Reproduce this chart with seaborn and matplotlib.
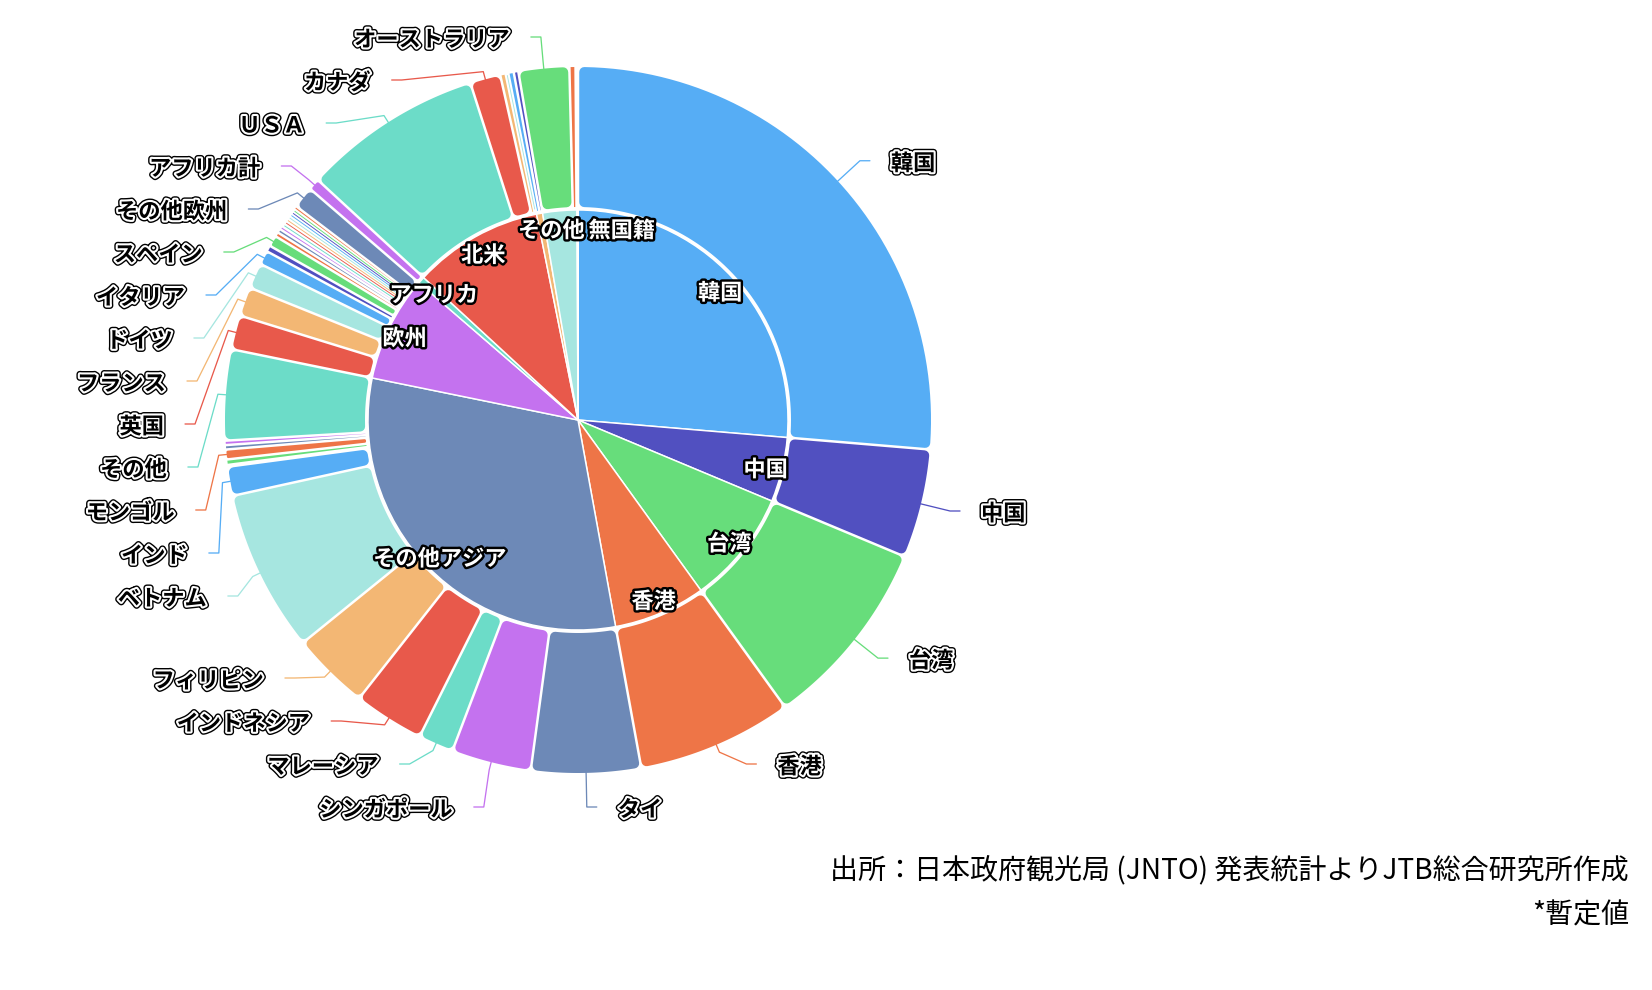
import numpy as np
import pandas as pd
import matplotlib
matplotlib.use("Agg")
import matplotlib.pyplot as plt
import matplotlib.patheffects as pe
from matplotlib.patches import Polygon
import seaborn as sns

# 国・地域別 訪日外客数の構成比（%）
countries = ["韓国", "中国", "台湾", "香港", "タイ", "シンガポール", "マレーシア", "インドネシア",
             "フィリピン", "ベトナム", "インド", "イスラエル", "トルコ", "モンゴル", "GCC6か国", "中東地域",
             "その他", "英国", "フランス", "ドイツ", "イタリア", "ロシア", "スペイン",
             "スウェーデン", "オランダ", "スイス", "ベルギー", "フィンランド", "ポーランド",
             "デンマーク", "ノルウェー", "オーストリア", "ポルトガル", "アイルランド", "その他欧州",
             "アフリカ計", "ＵＳＡ", "カナダ", "メキシコ", "その他北米", "ブラジル", "その他南米",
             "オーストラリア", "ニュージーランド", "その他オセアニア", "その他地域", "無国籍"]
share = [26.33, 4.97, 8.75, 7.08, 5.00, 3.64, 1.61, 3.22, 3.56, 7.39, 1.33, 0.08, 0.25, 0.45, 0.20, 0.20,
         4.14, 1.56, 1.33, 1.17, 0.64, 0.28, 0.50,
         0.20, 0.18, 0.16, 0.15, 0.14, 0.14, 0.14, 0.13, 0.12, 0.12, 0.16, 1.00,
         0.53, 8.22, 1.39, 0.25, 0.12, 0.25, 0.21, 2.31, 0.28, 0.04, 0.04, 0.03]
region = (["韓国", "中国", "台湾", "香港"] + ["その他アジア"] * 13 + ["欧州"] * 18 + ["アフリカ"]
          + ["北米"] * 4 + ["南米"] * 2 + ["オセアニア"] * 3 + ["その他", "無国籍"])

# ラベルを出す国
outer_labels = ["韓国", "中国", "台湾", "香港", "タイ", "シンガポール", "マレーシア", "インドネシア",
                "フィリピン", "ベトナム", "インド", "モンゴル", "その他", "英国", "フランス", "ドイツ",
                "イタリア", "スペイン", "その他欧州", "アフリカ計", "ＵＳＡ", "カナダ", "オーストラリア"]
hidden_inner = ["南米", "オセアニア"]
inner_nudge = {"その他": -26, "無国籍": 44}

note1 = "出所：日本政府観光局 (JNTO) 発表統計よりJTB総合研究所作成"
note2 = "*暫定値"

colors = ["#56adf5", "#5150c0", "#67dd7b", "#ee7547", "#6d89b7",
          "#c472ef", "#6cdcc8", "#e8594b", "#f3b774", "#a6e6e0"]

df = pd.DataFrame({"country": countries, "share": share, "region": region})
inner = df.groupby("region", sort=False)["share"].sum().reset_index()

sns.set_theme(style="white")
plt.rcParams["font.family"] = ["Noto Sans CJK JP", "DejaVu Sans"]
pal = sns.color_palette(colors)

W, H = 1652, 990
CX, CY = 578, H - 420
R_IN = 210
R_RING_IN, R_RING_OUT = 213, 353
GAP = 2.5
CORNER = 5.0
PX = 72 / 100  # 1px in points

fig = plt.figure(figsize=(W / 100, H / 100), dpi=100)
ax = fig.add_axes([0, 0, 1, 1])

in_wedges, _ = ax.pie(inner["share"], radius=R_IN, center=(CX, CY), startangle=90, counterclock=False,
                      colors=[pal[i % 10] for i in range(len(inner))],
                      wedgeprops=dict(edgecolor="white", linewidth=1.5 * PX))
out_wedges, _ = ax.pie(df["share"], radius=R_RING_OUT, center=(CX, CY), startangle=90, counterclock=False,
                       colors=[pal[i % 10] for i in range(len(df))],
                       wedgeprops=dict(width=R_RING_OUT - R_RING_IN, linewidth=0))


def rounded_slice(t1, t2, color):
    span = np.radians(t2 - t1)
    hw_in = span / 2 * R_RING_IN - GAP / 2
    if hw_in >= CORNER + 0.5:
        rc = CORNER
    elif hw_in > 1.5:
        rc = hw_in - 0.5
    else:
        rc = 0.0
    ri, ro = R_RING_IN + rc, R_RING_OUT - rc
    dai = np.degrees((rc + GAP / 2) / ri)
    dao = np.degrees((rc + GAP / 2) / ro)
    half = (t2 - t1) / 2
    if rc == 0 and half - dao <= 0.08:
        # 細すぎる扇形は線で描く
        if (t2 - t1) < 0.35:
            return
        m = np.radians((t1 + t2) / 2)
        ax.plot([CX + (R_RING_IN + 2) * np.cos(m), CX + (R_RING_OUT - 1) * np.cos(m)],
                [CY + (R_RING_IN + 2) * np.sin(m), CY + (R_RING_OUT - 1) * np.sin(m)],
                color=color, lw=0.9 * PX, solid_capstyle="butt")
        return
    dai = min(dai, half - 0.01)
    dao = min(dao, half - 0.01)
    to = np.radians(np.linspace(t1 + dao, t2 - dao, 60))
    ti = np.radians(np.linspace(t2 - dai, t1 + dai, 60))
    xy = np.concatenate([np.c_[CX + ro * np.cos(to), CY + ro * np.sin(to)],
                         np.c_[CX + ri * np.cos(ti), CY + ri * np.sin(ti)]])
    ax.add_patch(Polygon(xy, closed=True, facecolor=color, edgecolor=color,
                         linewidth=2 * rc * PX, joinstyle="round"))


for w in out_wedges:
    w.set_visible(False)
    rounded_slice(w.theta1, w.theta2, w.get_facecolor())

outer_fx = [pe.Stroke(linewidth=5, foreground="black"), pe.Stroke(linewidth=3, foreground="white"), pe.Normal()]
inner_fx = [pe.Stroke(linewidth=3.5, foreground="black"), pe.Normal()]


def block_start(ys, b, gap, lo, hi):
    y0 = np.mean([ys[k] for k in b]) - gap * (len(b) - 1) / 2
    return min(max(y0, lo), hi - gap * (len(b) - 1))


def spread(ys, gap, lo, hi):
    # 重なるラベルをまとめて等間隔に並べる
    blocks = []
    for i in np.argsort(ys):
        blocks.append([i])
        while len(blocks) > 1:
            p, b = blocks[-2], blocks[-1]
            if block_start(ys, p, gap, lo, hi) + gap * len(p) > block_start(ys, b, gap, lo, hi):
                blocks[-2] = p + b
                blocks.pop()
            else:
                break
    out = np.array(ys, dtype=float)
    for b in blocks:
        y0 = block_start(ys, b, gap, lo, hi)
        for j, k in enumerate(b):
            out[k] = y0 + gap * j
    return out


# 外側ラベル
R2 = R_RING_OUT + 30
items = []
for i, w in enumerate(out_wedges):
    if countries[i] not in outer_labels:
        continue
    m = np.radians((w.theta1 + w.theta2) / 2)
    items.append(dict(name=countries[i], m=m, color=pal[i % 10], right=np.cos(m) >= 0,
                      y=CY + R2 * np.sin(m), x=CX + R2 * np.cos(m)))

for side in (True, False):
    grp = [it for it in items if it["right"] == side]
    ys = spread([it["y"] for it in grp], 43, H - 807, H - 37)
    for it, y in zip(grp, ys):
        dy = y - CY
        sgn = 1 if side else -1
        x2 = CX + sgn * np.sqrt(R2 ** 2 - dy ** 2) if abs(dy) < R2 else it["x"]
        m = it["m"]
        px = [CX + (R_RING_OUT - 1) * np.cos(m), CX + (R_RING_OUT + 8) * np.cos(m), x2, x2 + sgn * 10]
        py = [CY + (R_RING_OUT - 1) * np.sin(m), CY + (R_RING_OUT + 8) * np.sin(m), y, y]
        ax.plot(px, py, color=it["color"], lw=1.3 * PX)
        ax.text(x2 + sgn * 31, y - 3, it["name"], ha="left" if side else "right", va="center",
                fontsize=16, fontweight="bold", color="black", path_effects=outer_fx)

# 内側ラベル
for j, w in enumerate(in_wedges):
    name = inner["region"][j]
    if name in hidden_inner:
        continue
    m = np.radians((w.theta1 + w.theta2) / 2)
    ax.text(CX + 0.92 * R_IN * np.cos(m) + inner_nudge.get(name, 0), CY + 0.92 * R_IN * np.sin(m) - 4, name,
            ha="center", va="center", fontsize=16, fontweight="bold", color="white", path_effects=inner_fx)

ax.text(1629, H - 871, note1, ha="right", va="center", fontsize=20.2, color="black")
ax.text(1629, H - 915, note2, ha="right", va="center", fontsize=20.2, color="black")

ax.set_xlim(0, W)
ax.set_ylim(0, H)
ax.set_aspect("equal")
ax.axis("off")
fig.savefig("out.png", dpi=100)
